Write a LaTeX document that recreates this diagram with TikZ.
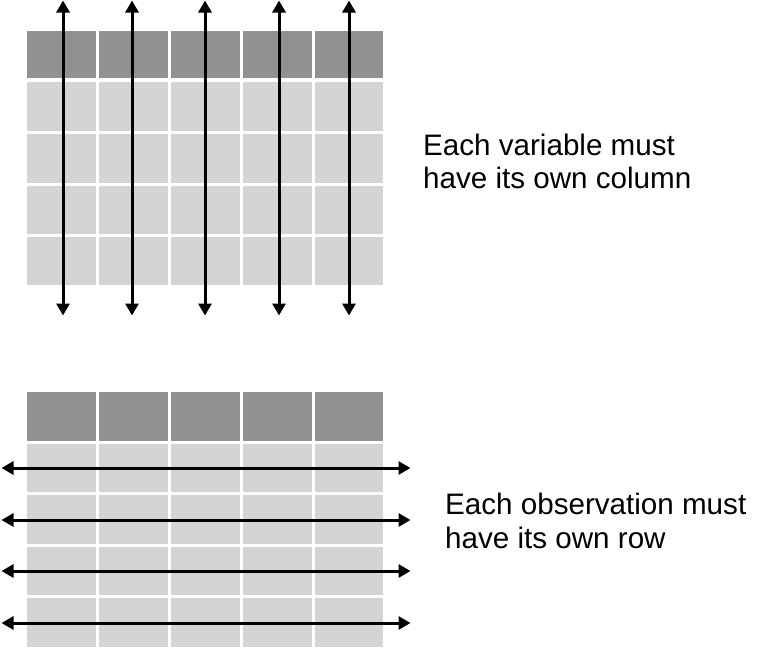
\documentclass[tikz,border=0pt]{standalone}
\usepackage{fontspec}
\setmainfont{Liberation Sans}
\usetikzlibrary{arrows.meta}
\definecolor{headgray}{RGB}{145,145,145}
\definecolor{cellgray}{RGB}{212,212,212}
\tikzset{
  headcell/.style={fill=headgray, draw=none},
  bodycell/.style={fill=cellgray, draw=none},
  dblarrow/.style={line width=3pt, {Triangle[length=12pt,width=13pt]}-{Triangle[length=12pt,width=13pt]}},
  label/.style={anchor=base west, inner sep=0pt, align=left, font=\fontsize{29.6}{33.5}\selectfont}
}
\begin{document}
\begin{tikzpicture}[x=1pt,y=-1pt]
\useasboundingbox (0,0) rectangle (769,651);
% column extents
\def\colxs{27/96,99/168,171/240,243/312,315/383}
% top grid
\foreach \xa/\xb [count=\i] in \colxs {
  \fill[headcell] (\xa,31) rectangle (\xb,78);
  \foreach \ya/\yb in {82/131,134/182.5,185.5/234,237/284.5}
    \fill[bodycell] (\xa,\ya) rectangle (\xb,\yb);
}
% bottom grid
\foreach \xa/\xb [count=\i] in \colxs {
  \fill[headcell] (\xa,392) rectangle (\xb,441);
  \foreach \ya/\yb in {444/492,495/544,547/595,598/647}
    \fill[bodycell] (\xa,\ya) rectangle (\xb,\yb);
}
% vertical arrows
\foreach \x [count=\i] in {63,132,205,279,349} {
  \coordinate (vt\i) at (\x,0.5);
  \coordinate (vb\i) at (\x,315.5);
  \draw[dblarrow] (vt\i) -- (vb\i);
}
% horizontal arrows
\foreach \y [count=\i] in {468,520,571,623} {
  \coordinate (hl\i) at (1.5,\y);
  \coordinate (hr\i) at (410.5,\y);
  \draw[dblarrow] (hl\i) -- (hr\i);
}
\node[label] (t1) at (423,188.5) {Each variable must\\have its own column};
\node[label] (t2) at (445,548) {Each observation must\\have its own row};
\end{tikzpicture}
\end{document}
